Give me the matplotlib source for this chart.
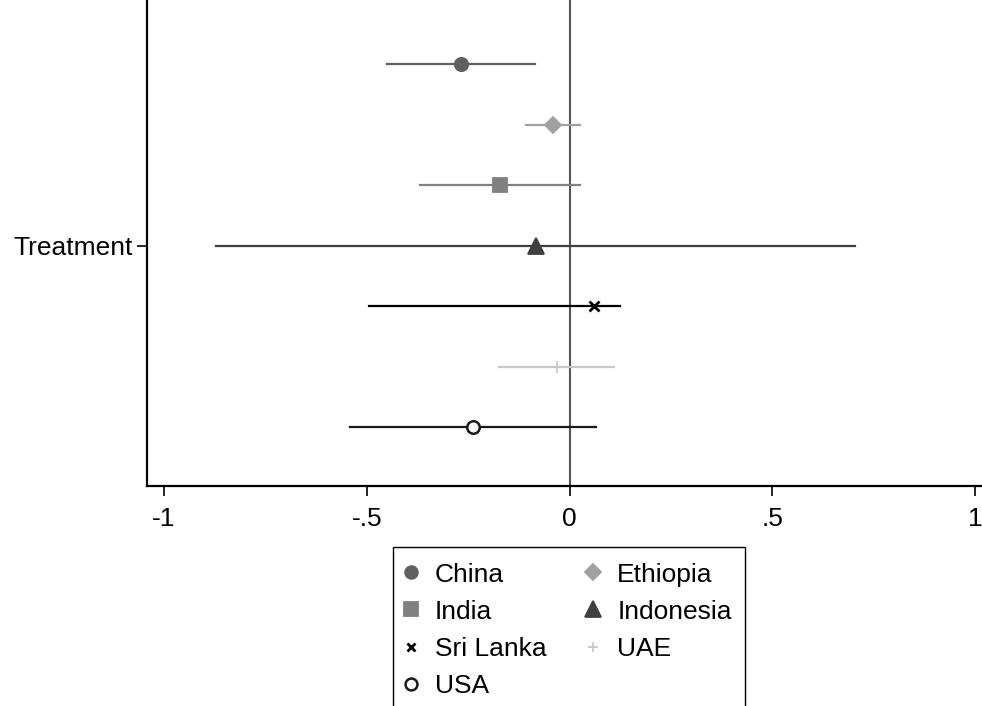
import numpy as np
import matplotlib.pyplot as plt
from matplotlib.lines import Line2D
from matplotlib.patches import Rectangle

plt.rcParams['font.family'] = ['Liberation Sans', 'DejaVu Sans']

countries = ['China', 'Ethiopia', 'India', 'Indonesia', 'Sri Lanka', 'UAE', 'USA']
coef = [-0.268, -0.041, -0.171, -0.083, 0.061, -0.032, -0.239]
ci_lo = [-0.450, -0.107, -0.369, -0.872, -0.494, -0.173, -0.542]
ci_hi = [-0.086, 0.026, 0.026, 0.704, 0.125, 0.110, 0.065]

colors = ['#606060', '#a0a0a0', '#808080', '#404040', '#000000', '#c8c8c8', '#1a1a1a']
markers = ['o', 'D', 's', '^', 'x', '+', 'o']
msizes = [9.6, 8.6, 10.6, 12, 6.5, 8, 9]
filled = [True, True, True, True, True, True, False]

fig = plt.figure(figsize=(9.82, 7.06), dpi=100)
ax = fig.add_axes([147/982, 1-486/706, 1-147/982, 486/706])

ypos = np.arange(3, -4, -1)
ax.axvline(0, color='#555555', lw=1.5, zorder=1)
handles = []
for i in range(len(countries)):
    ax.plot([ci_lo[i], ci_hi[i]], [ypos[i], ypos[i]], color=colors[i], lw=1.6, zorder=2)
    mfc = colors[i] if filled[i] else 'white'
    mew = 1.8 if not filled[i] else (2 if markers[i] == 'x' else 1.3)
    ax.plot(coef[i], ypos[i], marker=markers[i], color=colors[i], markersize=msizes[i],
            markerfacecolor=mfc, markeredgewidth=mew, linestyle='none', zorder=3)
    handles.append(Line2D([], [], marker=markers[i], color=colors[i], linestyle='none',
                          markersize=msizes[i] * 0.95, markerfacecolor=mfc,
                          markeredgewidth=mew))

ax.set_xlim(-1.042, 1.017)
ax.set_ylim(-3.97, 4.06)
ax.set_xticks([-1, -0.5, 0, 0.5, 1])
ax.set_xticklabels(['-1', '-.5', '0', '.5', '1'])
ax.set_yticks([0])
ax.set_yticklabels(['Treatment'])
ax.tick_params(axis='both', labelsize=19, length=7, width=1.2, color='black')
ax.tick_params(axis='x', pad=8)
ax.tick_params(axis='y', pad=3)
for s in ['top', 'right']:
    ax.spines[s].set_visible(False)
for s in ['left', 'bottom']:
    ax.spines[s].set_linewidth(1.6)

# legend box runs past the bottom of the figure, as in the original
fig.patches.append(Rectangle((393/982, -0.05), (745-393)/982, 1-547/706+0.05,
                             transform=fig.transFigure, fill=False,
                             edgecolor='black', lw=1.0))
order = [0, 2, 4, 6, 1, 3, 5]
leg = fig.legend([handles[k] for k in order], [countries[k] for k in order],
                 loc='upper left', bbox_to_anchor=(386/982, 1-548/706), ncol=2,
                 fontsize=19, frameon=False,
                 handlelength=0.8, handletextpad=0.5, columnspacing=1.38,
                 labelspacing=0.5, borderpad=0.55, borderaxespad=0)

fig.savefig('out.png', dpi=100)
